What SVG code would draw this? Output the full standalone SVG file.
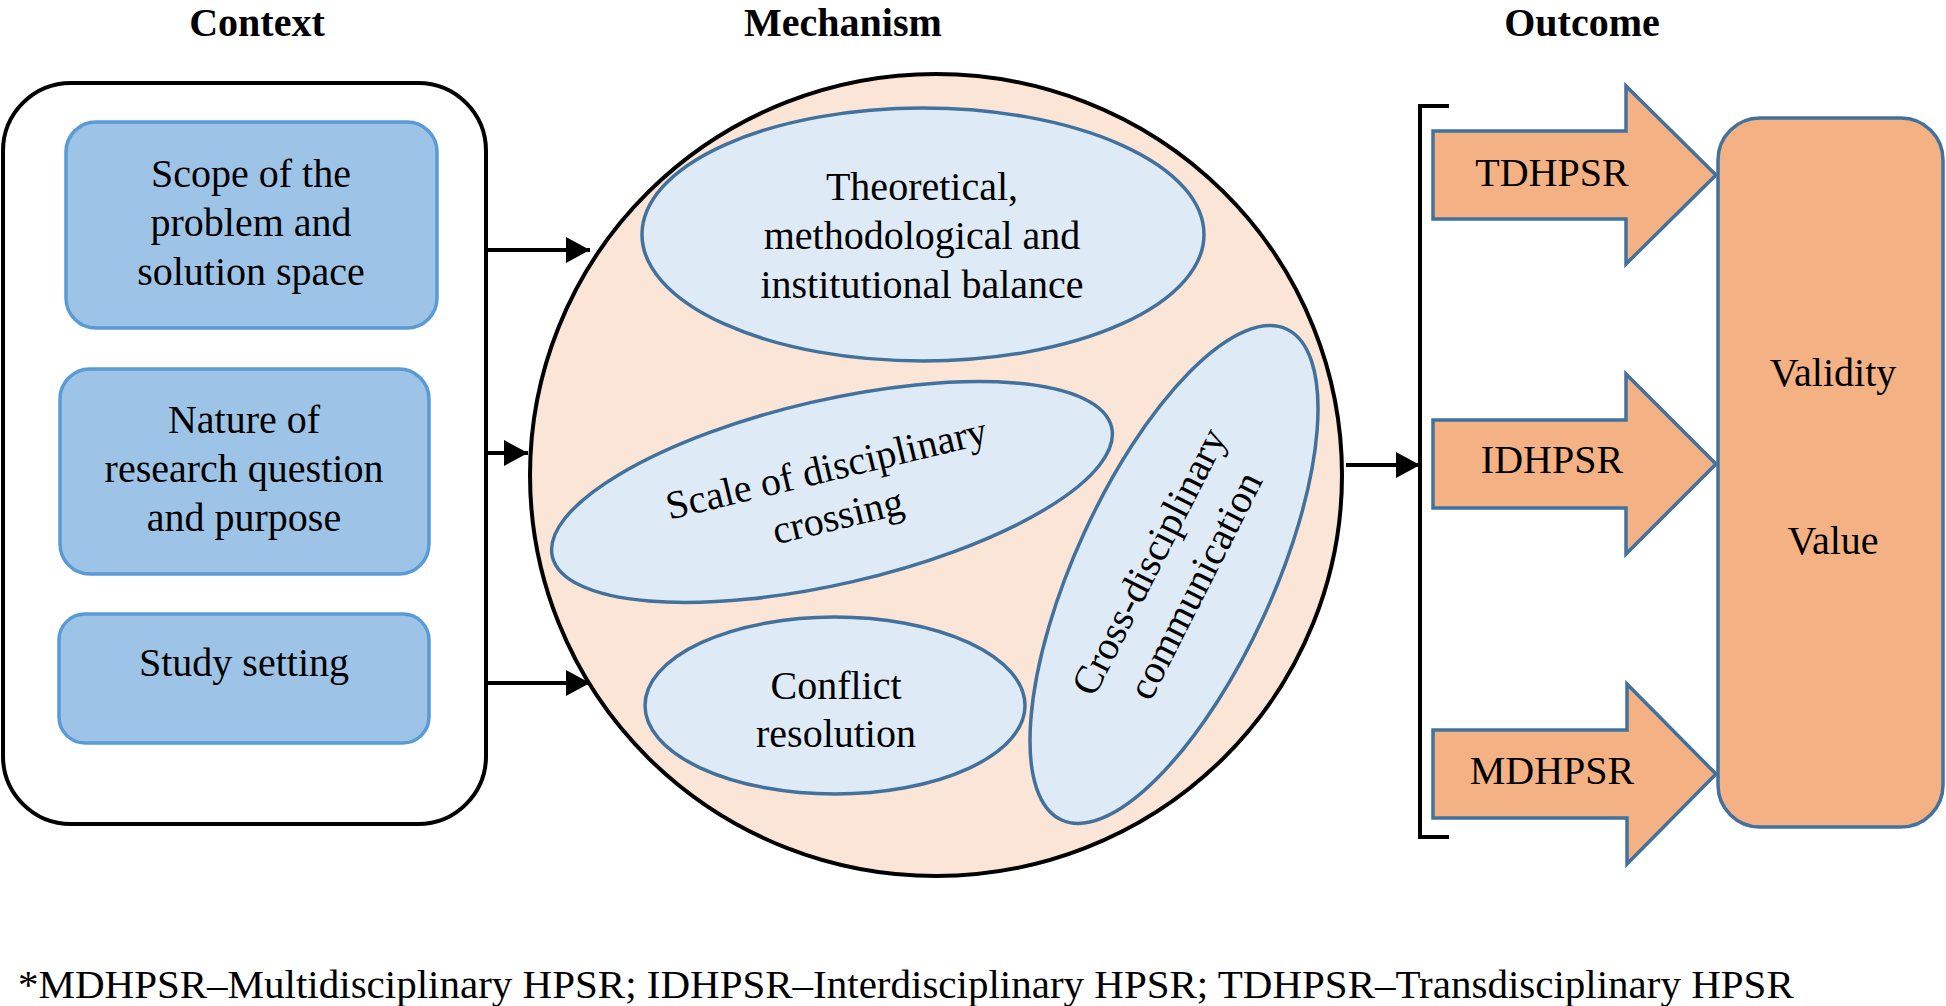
<svg xmlns="http://www.w3.org/2000/svg" width="1946" height="1006" viewBox="0 0 1946 1006">
<style>
text{font-family:"Liberation Serif","Times New Roman",serif;font-size:40px;fill:#000;text-anchor:middle}
.hdr{font-weight:bold}
.note{font-size:41px;text-anchor:start}
.ctx{fill:#9DC3E6;stroke:#5B9BD5;stroke-width:3.5}
.mech{fill:#DEEBF7;stroke:#41719C;stroke-width:3.5}
.out{fill:#F4B183;stroke:#41719C;stroke-width:3.5}
.conn{stroke:#000;stroke-width:4;fill:none}
</style>
<defs>
<marker id="ah" markerUnits="userSpaceOnUse" markerWidth="24" markerHeight="26" refX="24" refY="13" orient="auto">
<path d="M0,0 L24,13 L0,26 Z" fill="#000"/>
</marker>
</defs>
<rect width="1946" height="1006" fill="#fff"/>
<g id="headers">
<text class="hdr" x="257" y="36">Context</text>
<text class="hdr" x="843" y="36">Mechanism</text>
<text class="hdr" x="1582" y="36">Outcome</text>
</g>
<g id="context">
<rect x="3" y="83" width="483" height="741" rx="68" fill="#fff" stroke="#000" stroke-width="4"/>
</g>
<g id="scope">
<rect class="ctx" x="66" y="122" width="371" height="206" rx="30"/>
<text x="251" y="187">Scope of the</text>
<text x="251" y="236">problem and</text>
<text x="251" y="285">solution space</text>
</g>
<g id="nature">
<rect class="ctx" x="60" y="369" width="369" height="205" rx="30"/>
<text x="244" y="433">Nature of</text>
<text x="244" y="482">research question</text>
<text x="244" y="531">and purpose</text>
</g>
<g id="setting">
<rect class="ctx" x="59" y="614" width="370" height="129" rx="26"/>
<text x="244" y="676">Study setting</text>
</g>
<g id="mechanism">
<ellipse cx="936" cy="475" rx="406" ry="401" fill="#FBE5D6" stroke="#000" stroke-width="4"/>
</g>
<g id="balance">
<ellipse class="mech" cx="923" cy="234.5" rx="281" ry="126.5"/>
<text x="922" y="200">Theoretical,</text>
<text x="922" y="249">methodological and</text>
<text x="922" y="298">institutional balance</text>
</g>
<g id="scale" transform="translate(832,492) rotate(-13.5)">
<ellipse class="mech" cx="0" cy="0" rx="287" ry="92" transform="rotate(0.5)"/>
<text x="0" y="-11">Scale of disciplinary</text>
<text x="0" y="38">crossing</text>
</g>
<g id="conflict">
<ellipse class="mech" cx="835" cy="705.5" rx="190" ry="88.5"/>
<text x="836" y="699">Conflict</text>
<text x="836" y="747">resolution</text>
</g>
<g id="communication" transform="translate(1174,574.5)">
<ellipse class="mech" cx="0" cy="0" rx="99" ry="270" transform="rotate(24.6)"/>
<g transform="rotate(-63)">
<text x="0" y="-15">Cross-disciplinary</text>
<text x="0" y="37">communication</text>
</g>
</g>
<g id="tdhpsr">
<path class="out" d="M1433,131 H1626 V86 L1716,175 L1626,264 V219 H1433 Z"/>
<text x="1552" y="186">TDHPSR</text>
</g>
<g id="idhpsr">
<path class="out" d="M1433,420 H1626 V374 L1716,464 L1626,554 V508 H1433 Z"/>
<text x="1552" y="473">IDHPSR</text>
</g>
<g id="mdhpsr">
<path class="out" d="M1433,730 H1627 V684 L1716,774 L1627,864 V818 H1433 Z"/>
<text x="1552" y="784">MDHPSR</text>
</g>
<g id="result">
<rect class="out" x="1718" y="118" width="225" height="709" rx="42"/>
<text x="1833" y="386">Validity</text>
<text x="1833" y="554">Value</text>
</g>
<g id="connectors">
<line class="conn" x1="488" y1="250" x2="590" y2="250" marker-end="url(#ah)"/>
<line class="conn" x1="488" y1="453" x2="528" y2="453" marker-end="url(#ah)"/>
<line class="conn" x1="488" y1="683" x2="590" y2="683" marker-end="url(#ah)"/>
<line class="conn" x1="1346" y1="465" x2="1420" y2="465" marker-end="url(#ah)"/>
<path class="conn" d="M1449,106 H1420 V837 H1449" stroke-width="3.5"/>
</g>
<text class="note" x="18" y="998">*MDHPSR–Multidisciplinary HPSR; IDHPSR–Interdisciplinary HPSR; TDHPSR–Transdisciplinary HPSR</text>
</svg>
